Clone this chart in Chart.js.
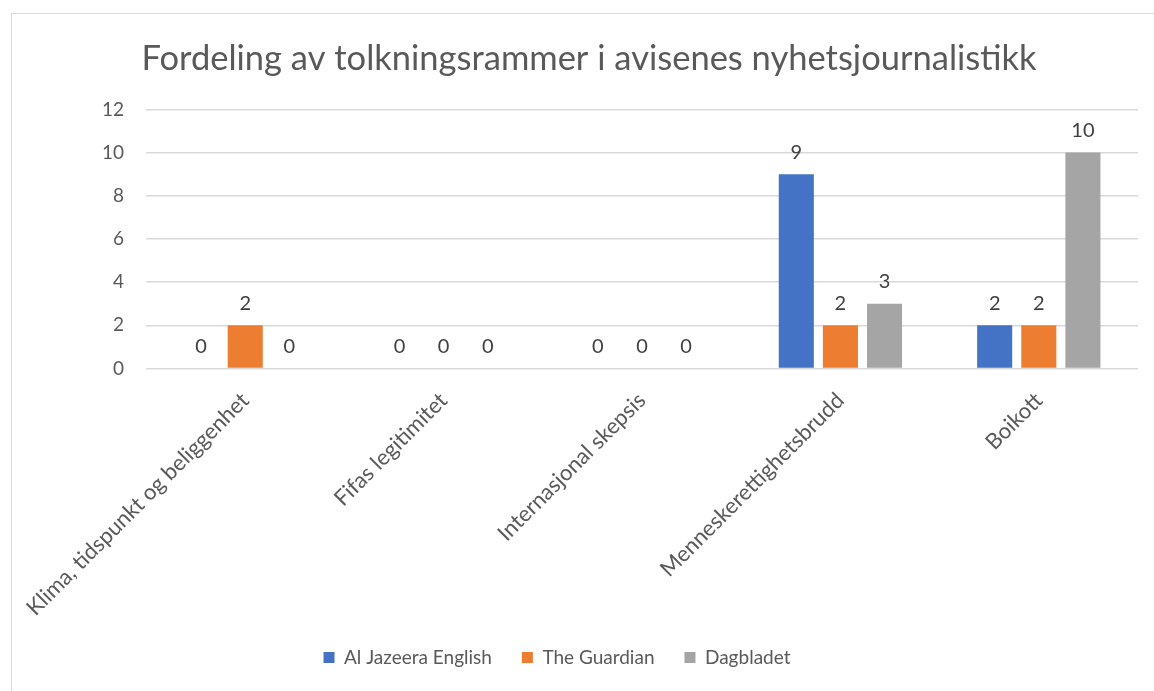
<!DOCTYPE html>
<html>
<head>
<meta charset="utf-8">
<script src="https://cdn.jsdelivr.net/npm/chart.js@4.4.0/dist/chart.umd.min.js"></script>
<style>
  html, body { margin: 0; padding: 0; background: #fff; }
  body { width: 1154px; height: 691px; position: relative; overflow: hidden; }
  #frame {
    position: absolute; left: 11px; top: 13px;
    width: 1160px; height: 700px;
    border: 1px solid #d9d9d9; box-sizing: border-box;
  }
  #wrap { position: absolute; left: 0; top: 0; width: 1154px; height: 691px; }
</style>
</head>
<body>
<div id="frame"></div>
<div id="wrap"><canvas id="chart"></canvas></div>
<script>
// Chart data
const categories = [
  "Klima, tidspunkt og beliggenhet",
  "Fifas legitimitet",
  "Internasjonal skepsis",
  "Menneskerettighetsbrudd",
  "Boikott"
]
const seriesNames = ["Al Jazeera English", "The Guardian", "Dagbladet"]
const alJazeera = [0, 0, 0, 9, 2]
const guardian = [2, 0, 0, 2, 2]
const dagbladet = [0, 0, 0, 3, 10]
const yTicks = [0, 2, 4, 6, 8, 10, 12]

const colors = ["#4472C4", "#ED7D31", "#A5A5A5"]
const textColor = "#595959"
const fontFamily = "Lato, 'Open Sans', sans-serif"

// draw value labels above each bar
const valueLabels = {
  id: "valueLabels",
  afterDatasetsDraw(chart) {
    const ctx = chart.ctx
    ctx.save()
    ctx.font = "20px " + fontFamily
    ctx.fillStyle = "#404040"
    ctx.textAlign = "center"
    ctx.textBaseline = "bottom"
    chart.data.datasets.forEach((ds, i) => {
      const meta = chart.getDatasetMeta(i)
      meta.data.forEach((bar, j) => {
        ctx.fillText(String(ds.data[j]), bar.x, bar.y - 12)
      })
    })
    ctx.restore()
  }
}

// nudge title and legend sideways to sit like the original
const shiftBoxes = {
  id: "shiftBoxes",
  afterLayout(chart) {
    if (chart.titleBlock) {
      chart.titleBlock.left -= 20
      chart.titleBlock.right -= 20
    }
    if (chart.legend) {
      chart.legend.left -= 52
      chart.legend.right -= 52
    }
  }
}

document.addEventListener("DOMContentLoaded", () => {
  const ctx = document.getElementById("chart")
  new Chart(ctx, {
    type: "bar",
    data: {
      labels: categories,
      datasets: [
        { label: seriesNames[0], data: alJazeera, backgroundColor: colors[0] },
        { label: seriesNames[1], data: guardian, backgroundColor: colors[1] },
        { label: seriesNames[2], data: dagbladet, backgroundColor: colors[2] },
      ],
    },
    options: {
      responsive: true,
      maintainAspectRatio: false,
      animation: false,
      datasets: {
        bar: { categoryPercentage: 0.667, barPercentage: 0.795 },
      },
      layout: { padding: { left: 80, right: 16, top: 38, bottom: 14 } },
      scales: {
        x: {
          grid: { display: false },
          border: { display: false },
          afterFit: (axis) => {
            axis.height -= 14
          },
          ticks: {
            color: textColor,
            font: { family: fontFamily, size: 22 },
            minRotation: 45,
            maxRotation: 45,
            autoSkip: false,
            padding: 11,
          },
        },
        y: {
          min: 0,
          max: 12,
          afterBuildTicks: (axis) => {
            axis.ticks = yTicks.map((v) => ({ value: v }))
          },
          grid: { color: "#d9d9d9", lineWidth: 1.5, drawTicks: false },
          border: { display: false },
          ticks: {
            color: textColor,
            font: { family: fontFamily, size: 19 },
            padding: 22,
          },
        },
      },
      plugins: {
        title: {
          display: true,
          text: "Fordeling av tolkningsrammer i avisenes nyhetsjournalistikk",
          color: textColor,
          font: { family: fontFamily, size: 34.5, weight: "normal" },
          padding: { top: 0, bottom: 30 },
        },
        legend: {
          position: "bottom",
          labels: {
            color: textColor,
            font: { family: fontFamily, size: 19 },
            boxWidth: 11,
            boxHeight: 11,
            padding: 30,
          },
        },
        tooltip: { enabled: false },
      },
    },
    plugins: [valueLabels, shiftBoxes],
  })
})
</script>
</body>
</html>
